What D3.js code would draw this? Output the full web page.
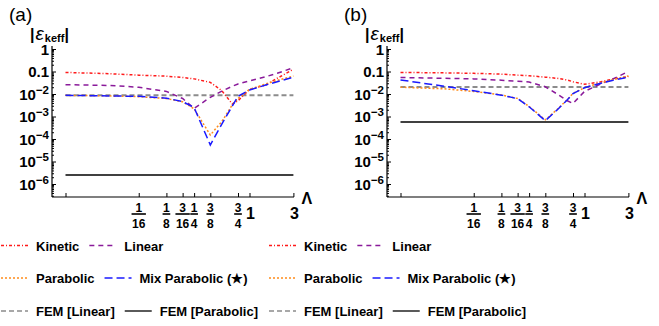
<!DOCTYPE html>
<html>
<head>
<meta charset="utf-8">
<script src="https://cdn.jsdelivr.net/npm/d3@7"></script>
<style>
  body { margin: 0; background: #fff; }
  svg text { font-family: "Liberation Sans", Arial, sans-serif; font-weight: bold; fill: #000; }
</style>
</head>
<body>
<div id="chart"></div>
<script>
// sample points on the Lambda axis
const lambdas = [0.01, 0.03, 1/16, 1/8, 3/16, 1/4, 3/8, 1/2, 0.65, 3/4, 1, 1.5, 2, 3];

// panel (a)
const kineticA   = [0.091, 0.080, 0.069, 0.062, 0.054, 0.047, 0.033, 0.014, 0.0036, 0.005, 0.016, 0.025, 0.05, 0.125];
const linearA    = [0.026, 0.024, 0.020, 0.013, 0.0063, 0.0023, 0.0071, 0.0135, 0.022, 0.028, 0.038, 0.059, 0.083, 0.148];
const parabolicA = [0.0087, 0.0083, 0.0076, 0.0063, 0.0045, 0.0022, 1.5e-4, 5.9e-4, 0.0033, 0.0063, 0.016, 0.028, 0.04, 0.063];
const mixA       = [0.0087, 0.0082, 0.0079, 0.0065, 0.0046, 0.0025, 5.4e-5, 4.6e-4, 0.0029, 0.0079, 0.015, 0.025, 0.035, 0.056];
const femLinearA = 0.0087;
const femParabolicA = 2.5e-6;

// panel (b)
const kineticB   = [0.091, 0.087, 0.083, 0.076, 0.069, 0.065, 0.056, 0.05, 0.042, 0.035, 0.027, 0.035, 0.045, 0.06];
const linearB    = [0.054, 0.05, 0.047, 0.041, 0.037, 0.034, 0.021, 0.0102, 0.005, 0.0038, 0.013, 0.028, 0.045, 0.1];
const parabolicB = [0.02, 0.017, 0.013, 0.0091, 0.0063, 0.0028, 7.1e-4, 0.002, 0.0056, 0.0107, 0.019, 0.032, 0.043, 0.063];
const mixB       = [0.042, 0.022, 0.014, 0.0089, 0.0062, 0.0027, 6.5e-4, 0.0019, 0.0055, 0.0105, 0.019, 0.03, 0.04, 0.056];
const femLinearB = 0.0205;
const femParabolicB = 5.7e-4;

const xTicks = [0.01, 1/16, 1/8, 3/16, 1/4, 3/8, 3/4, 1, 3];
const xTickLabels = ['', '1/16', '1/8', '3/16', '1/4', '3/8', '3/4', '1', '3'];
const yTicks = [1, 0.1, 1e-2, 1e-3, 1e-4, 1e-5, 1e-6];
const yTickLabels = ['1', '0.1', '10^\u22122', '10^\u22123', '10^\u22124', '10^\u22125', '10^\u22126'];

const seriesNames = ['Kinetic', 'Linear', 'Parabolic', 'Mix Parabolic (\u2605)', 'FEM [Linear]', 'FEM [Parabolic]'];
const seriesColors = ['#ff1a1a', '#8a1a9a', '#ff8c1a', '#1a1aff', '#8c8c8c', '#000000'];
const seriesDash = ['3,2,1,2', '5,4', '2,2', '8,4', '5,3', null];
const seriesWidth = [1.5, 1.5, 1.5, 1.5, 2, 1.5];

const W = 659, H = 326;
const svg = d3.select('#chart').append('svg')
    .attr('width', W)
    .attr('height', H);

function drawPanel(ox, tag, curves, femLin, femPar) {
    const g = svg.append('g').attr('transform', `translate(${ox},0)`);

    const x = d3.scaleLog().domain([0.01, 3]).range([65.5, 293.4]);
    const y = d3.scaleLog().domain([1e-6, 1]).range([184, 49]);
    const axisLeft = 52, axisBottom = 197, axisTop = 46, axisRight = 294;

    // series lines, FEM references first so they sit underneath
    const line = d3.line().x(d => x(d[0])).y(d => y(d[1]));
    const ends = [lambdas[0], lambdas[lambdas.length - 1]];
    const all = curves.concat([ends.map(() => femLin), ends.map(() => femPar)]);
    const order = [4, 5, 0, 1, 2, 3];
    order.forEach(i => {
        const vals = all[i];
        const xsUsed = vals.length === lambdas.length ? lambdas : ends;
        g.append('path')
            .datum(xsUsed.map((l, k) => [l, vals[k]]))
            .attr('fill', 'none')
            .attr('stroke', seriesColors[i])
            .attr('stroke-width', seriesWidth[i])
            .attr('stroke-dasharray', seriesDash[i])
            .attr('d', line);
    });

    // y axis with minor ticks
    const yAx = g.append('g').attr('transform', `translate(${axisLeft},0)`);
    yAx.call(d3.axisLeft(y).tickValues(yTicks).tickSize(-4).tickFormat(''));
    const minor = [];
    for (let e = -7; e <= 0; e++) {
        for (let m = 2; m <= 9; m++) {
            const v = m * Math.pow(10, e);
            if (y(v) <= axisBottom && y(v) >= axisTop) minor.push(v);
        }
    }
    yAx.append('g').call(d3.axisLeft(y).tickValues(minor).tickSize(-2).tickFormat(''))
        .select('.domain').remove();
    yAx.select('.domain').remove();
    yAx.selectAll('line').attr('stroke', '#000').attr('stroke-width', 1);
    yAx.append('line')
        .attr('x1', 0).attr('x2', 0)
        .attr('y1', axisTop).attr('y2', axisBottom)
        .attr('stroke', '#000').attr('stroke-width', 1.2);

    yTicks.forEach((v, i) => {
        const parts = yTickLabels[i].split('^');
        const t = g.append('text')
            .attr('x', axisLeft - 3)
            .attr('y', y(v) + 5.5)
            .attr('text-anchor', 'end')
            .style('font-size', '15px')
            .text(parts[0]);
        if (parts[1]) {
            t.append('tspan')
                .attr('dy', -6)
                .style('font-size', '11.5px')
                .text(parts[1]);
        }
    });

    // x axis
    const xAx = g.append('g').attr('transform', `translate(0,${axisBottom})`);
    xAx.call(d3.axisBottom(x).tickValues(xTicks).tickSize(-4).tickFormat(''));
    xAx.select('.domain').remove();
    xAx.selectAll('line').attr('stroke', '#000').attr('stroke-width', 1);
    xAx.append('line')
        .attr('x1', axisLeft).attr('x2', axisRight)
        .attr('y1', 0).attr('y2', 0)
        .attr('stroke', '#000').attr('stroke-width', 1.2);

    xTicks.forEach((v, i) => {
        const lab = xTickLabels[i];
        if (!lab) return;
        const cx = x(v);
        if (lab.includes('/')) {
            const [num, den] = lab.split('/');
            const tn = g.append('text').attr('x', cx).attr('y', 211.5)
                .attr('text-anchor', 'middle').style('font-size', '12px').text(num);
            const td = g.append('text').attr('x', cx).attr('y', 228)
                .attr('text-anchor', 'middle').style('font-size', '12px').text(den);
            const bw = Math.max(tn.node().getComputedTextLength(), td.node().getComputedTextLength()) + 1;
            g.append('line')
                .attr('x1', cx - bw / 2).attr('x2', cx + bw / 2)
                .attr('y1', 214).attr('y2', 214)
                .attr('stroke', '#000').attr('stroke-width', 1.6);
        } else {
            g.append('text').attr('x', cx + 1).attr('y', 218.5)
                .attr('text-anchor', 'middle').style('font-size', '16px').text(lab);
        }
    });

    g.append('text').attr('x', 301.5).attr('y', 203.5)
        .style('font-size', '16px').text('\u039b');

    // panel tag and y label
    g.append('text').attr('x', 9).attr('y', 20.5)
        .style('font-size', '19px').style('font-weight', 'normal').text(tag);

    const yl = g.append('text').attr('x', 30).attr('y', 40).style('font-size', '16px');
    yl.append('tspan').text('|');
    yl.append('tspan').attr('dx', 1).style('font-size', '19px').style('font-style', 'italic')
        .style('font-weight', 'normal').text('\u03b5');
    yl.append('tspan').attr('dx', 1).attr('dy', 1.5).style('font-size', '11px').text('keff');
    yl.append('tspan').attr('dy', -1.5).text('|');
}

function drawLegend(lx) {
    const g = svg.append('g').attr('transform', `translate(${lx},0)`);
    const rows = [[0, 1], [2, 3], [4, 5]];
    const rowY = [245.5, 278, 311];
    rows.forEach((row, r) => {
        let cx = 1;
        row.forEach(i => {
            g.append('line')
                .attr('x1', cx).attr('x2', cx + 27)
                .attr('y1', rowY[r]).attr('y2', rowY[r])
                .attr('stroke', seriesColors[i])
                .attr('stroke-width', seriesWidth[i] === 2 ? 1.6 : 1.3)
                .attr('stroke-dasharray', seriesDash[i]);
            const t = g.append('text')
                .attr('x', cx + 35)
                .attr('y', rowY[r] + 5)
                .style('font-size', '13px')
                .text(seriesNames[i]);
            cx = cx + 35 + t.node().getComputedTextLength() + 10;
        });
    });
}

drawPanel(0, '(a)', [kineticA, linearA, parabolicA, mixA], femLinearA, femParabolicA);
drawPanel(335, '(b)', [kineticB, linearB, parabolicB, mixB], femLinearB, femParabolicB);
drawLegend(0);
drawLegend(268);
</script>
</body>
</html>
